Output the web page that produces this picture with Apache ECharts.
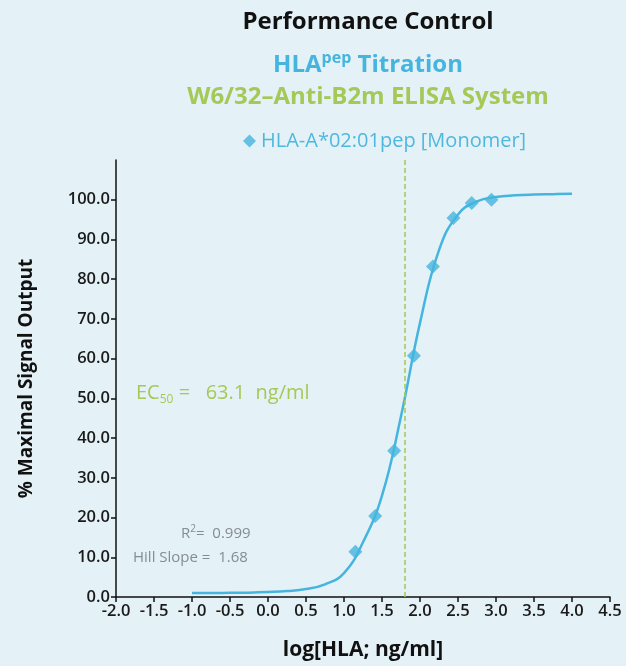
<!DOCTYPE html>
<html>
<head>
<meta charset="utf-8">
<script src="https://cdn.jsdelivr.net/npm/echarts@6/dist/echarts.min.js"></script>
<style>
  html, body { margin: 0; padding: 0; background: #e4f1f6; }
  #chart { width: 626px; height: 666px; }
</style>
</head>
<body>
<div id="chart"></div>
<script>
// measured points, log[HLA; ng/ml] vs % maximal signal
var pointX = [1.15, 1.41, 1.66, 1.92, 2.17, 2.44, 2.68, 2.94];
var pointY = [11.4, 20.4, 36.8, 60.7, 83.2, 95.4, 99.2, 100.0];

// fitted curve
var curveX = [-1.0, -0.75, -0.5, -0.25, 0.0, 0.25, 0.5, 0.75, 1.0, 1.25, 1.5, 1.75, 2.0,
              2.25, 2.5, 2.75, 3.0, 3.25, 3.5, 3.75, 4.0];
var curveY = [1.0, 1.0, 1.05, 1.1, 1.25, 1.5, 2.0, 3.2, 6.0, 13.8, 25.5, 45.5, 69.0,
              87.3, 96.3, 99.6, 100.7, 101.1, 101.3, 101.4, 101.5];

var ec50Log = 1.8;
var yTicks = [0, 10, 20, 30, 40, 50, 60, 70, 80, 90, 100];

var blue = '#45b5df';
var green = '#a5c957';
var font = '"Open Sans", "DejaVu Sans", sans-serif';

function zip(xs, ys) {
  return xs.map(function(x, i) { return [x, ys[i]]; });
}

var chart = echarts.init(document.getElementById('chart'));

chart.setOption({
  backgroundColor: '#e4f1f6',
  textStyle: { fontFamily: font },
  title: [
    {
      text: 'Performance Control',
      left: 363, top: 5, textAlign: 'center',
      textStyle: { fontSize: 24, fontWeight: 'bold', color: '#111', fontFamily: font }
    },
    {
      text: '{a|HLA}{s|pep}{a| Titration}',
      left: 363, top: 45, textAlign: 'center',
      textStyle: {
        rich: {
          a: { fontSize: 24, fontWeight: 'bold', color: blue, fontFamily: font, lineHeight: 30 },
          s: { fontSize: 16, fontWeight: 'bold', color: blue, fontFamily: font, verticalAlign: 'top', lineHeight: 30 }
        }
      }
    },
    {
      text: 'W6/32–Anti-B2m ELISA System',
      left: 363, top: 80, textAlign: 'center',
      textStyle: { fontSize: 24, fontWeight: 'bold', color: green, fontFamily: font }
    }
  ],
  legend: {
    left: 238, top: 126,
    icon: 'diamond',
    itemWidth: 13, itemHeight: 13, itemGap: 8,
    textStyle: { fontSize: 20, color: '#4fb8df', fontFamily: font },
    data: ['HLA-A*02:01pep [Monomer]']
  },
  grid: { left: 116, right: 16, top: 160, bottom: 69, containLabel: false, outerBoundsMode: 'none' },
  xAxis: {
    type: 'value',
    min: -2, max: 4.5, interval: 0.5,
    name: 'log[HLA; ng/ml]',
    nameLocation: 'middle', nameGap: 43,
    nameTextStyle: { fontSize: 21, fontWeight: 'bold', color: '#111', fontFamily: font },
    axisLine: { show: true, onZero: false, lineStyle: { color: '#111', width: 1.5 } },
    axisTick: { show: true, length: 5, lineStyle: { color: '#111', width: 1.5 } },
    axisLabel: {
      fontSize: 16.5, fontWeight: 600, color: '#1a1a1a', margin: 6, fontFamily: font,
      formatter: function(v) { return v.toFixed(1); }
    },
    splitLine: { show: false }
  },
  yAxis: {
    type: 'value',
    min: 0, max: 110, interval: 10,
    name: '% Maximal Signal Output',
    nameLocation: 'middle', nameGap: 80, nameRotate: 90,
    nameTextStyle: { fontSize: 19, fontWeight: 'bold', color: '#111', fontFamily: font },
    axisLine: { show: true, onZero: false, lineStyle: { color: '#111', width: 1.5 } },
    axisTick: { show: true, length: 5, customValues: yTicks, lineStyle: { color: '#111', width: 1.5 } },
    axisLabel: {
      fontSize: 16.5, fontWeight: 600, color: '#1a1a1a', margin: 6, fontFamily: font,
      customValues: yTicks,
      formatter: function(v) { return v.toFixed(1); }
    },
    splitLine: { show: false }
  },
  series: [
    {
      name: 'fit',
      type: 'line',
      data: zip(curveX, curveY),
      smooth: 0.45,
      showSymbol: false,
      lineStyle: { color: blue, width: 2.5 },
      z: 2,
      markLine: {
        silent: true,
        symbol: 'none',
        label: { show: false },
        lineStyle: { color: green, type: [5, 3], width: 1.5 },
        data: [{ xAxis: ec50Log }]
      }
    },
    {
      name: 'HLA-A*02:01pep [Monomer]',
      type: 'scatter',
      data: zip(pointX, pointY),
      symbol: 'diamond',
      symbolSize: 14,
      itemStyle: { color: blue },
      z: 3
    }
  ],
  graphic: [
    {
      type: 'text', left: 136, top: 383,
      style: {
        text: '{a|EC}{s|50}{a| =   63.1  ng/ml}',
        rich: {
          a: { fontSize: 20, fill: green, fontFamily: font, lineHeight: 26 },
          s: { fontSize: 12, fill: green, fontFamily: font, verticalAlign: 'bottom', lineHeight: 26 }
        }
      }
    },
    {
      type: 'text', left: 181, top: 524,
      style: {
        text: '{a|R}{s|2}{a|=  0.999}',
        rich: {
          a: { fontSize: 15, fill: '#858d92', fontFamily: font, lineHeight: 20 },
          s: { fontSize: 10, fill: '#858d92', fontFamily: font, verticalAlign: 'top', lineHeight: 20 }
        }
      }
    },
    {
      type: 'text', left: 133, top: 550,
      style: { text: 'Hill Slope =  1.68', fontSize: 15, fill: '#858d92', fontFamily: font }
    }
  ]
});
</script>
</body>
</html>
